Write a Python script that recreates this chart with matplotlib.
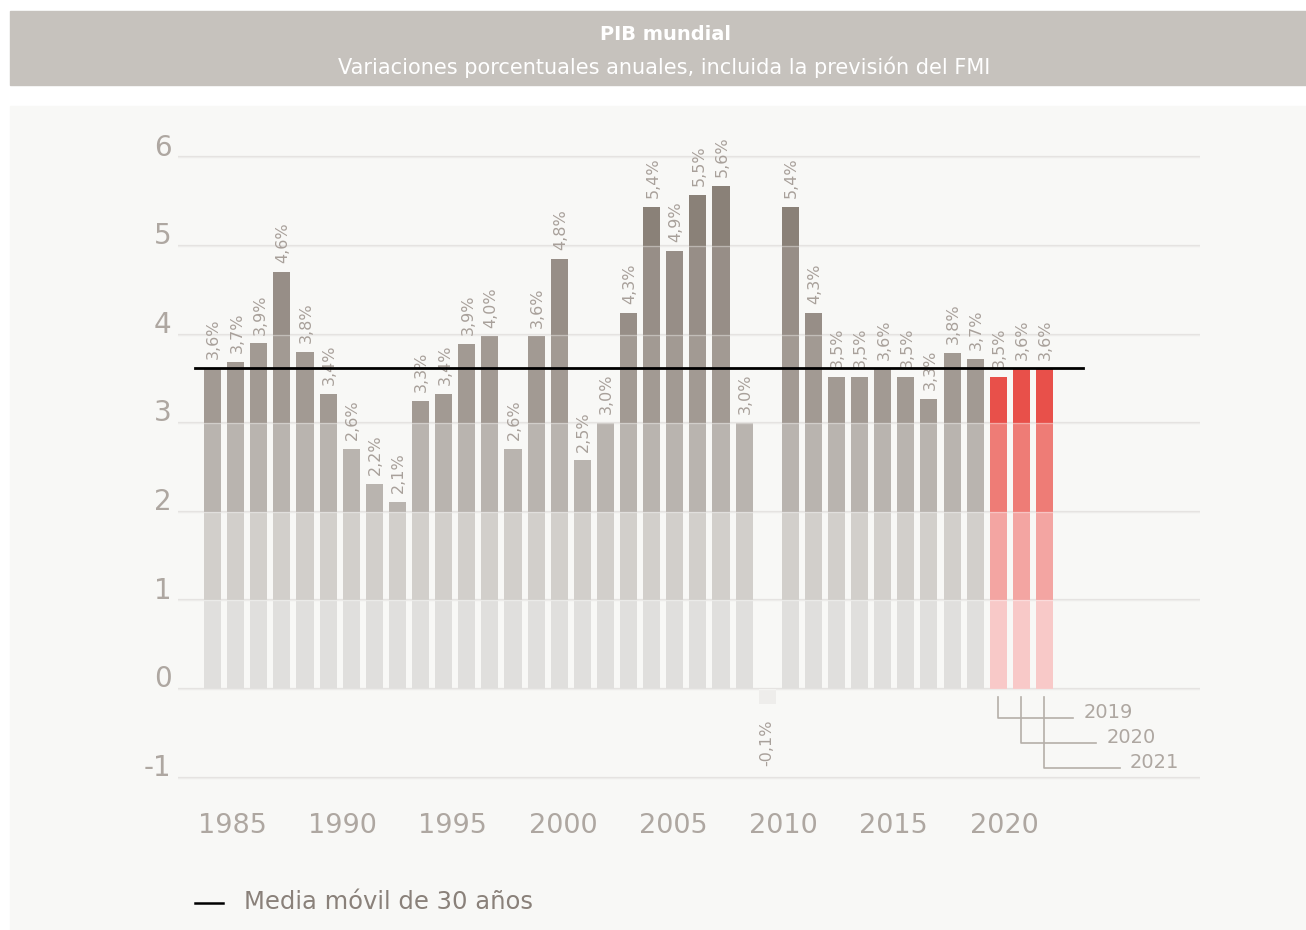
import numpy as np
import matplotlib.pyplot as plt
from matplotlib.patches import Rectangle
from matplotlib.lines import Line2D
import matplotlib.transforms as mtransforms

# data
years = list(range(1985, 2022))
growth = [3.62, 3.69, 3.90, 4.71, 3.80, 3.33, 2.71, 2.31, 2.11, 3.25,
          3.33, 3.89, 3.98, 2.71, 3.98, 4.85, 2.58, 3.00, 4.24, 5.44,
          4.94, 5.58, 5.68, 3.00, -0.17, 5.44, 4.24, 3.52, 3.52, 3.61,
          3.52, 3.27, 3.79, 3.73, 3.52, 3.61, 3.61]
labels = ["3,6%", "3,7%", "3,9%", "4,6%", "3,8%", "3,4%", "2,6%", "2,2%", "2,1%", "3,3%",
          "3,4%", "3,9%", "4,0%", "2,6%", "3,6%", "4,8%", "2,5%", "3,0%", "4,3%", "5,4%",
          "4,9%", "5,5%", "5,6%", "3,0%", "-0,1%", "5,4%", "4,3%", "3,5%", "3,5%", "3,6%",
          "3,5%", "3,3%", "3,8%", "3,7%", "3,5%", "3,6%", "3,6%"]
forecast_years = [2019, 2020, 2021]
moving_avg = 3.62
ma_start, ma_end = 1984.25, 2022.67
yticks = [-1, 0, 1, 2, 3, 4, 5, 6]
xtick_labels = ["1985", "1990", "1995", "2000", "2005", "2010", "2015", "2020"]

# band colours (0-1, 1-2, 2-3, 3-4, 4-5, 5-6)
grey_bands = ["#e0dfdd", "#d2cfcb", "#b9b4af", "#a29a93", "#978e87", "#8a8178"]
red_bands = ["#f8c9c8", "#f3a5a2", "#ee7c76", "#e8504a", "#e8504a", "#e8504a"]
neg_color = "#eeedeb"

W, H = 1306, 930
fig = plt.figure(figsize=(W / 100, H / 100), dpi=100)
fig.patch.set_facecolor("white")

# header band and panel
fig.patches.append(Rectangle((10 / W, 1 - 85 / H), 1 - 10 / W, 74 / H,
                             transform=fig.transFigure, color="#c6c2bd", zorder=-5))
fig.patches.append(Rectangle((10 / W, 0), 1 - 10 / W, 1 - 106 / H,
                             transform=fig.transFigure, color="#f8f8f6", zorder=-5))
fig.text(665 / W, 1 - 34 / H, "PIB mundial", color="white", fontsize=14,
         fontweight="bold", ha="center", va="center")
fig.text(664 / W, 1 - 67 / H, "Variaciones porcentuales anuales, incluida la previsión del FMI",
         color="white", fontsize=15, ha="center", va="center")

unit = 88.6
y_lo, y_hi = -1.1, 6.1
left_px, right_px = 177.7, 1200
bottom_px = 689 + 1.1 * unit
top_px = 689 - 6.1 * unit
ax = fig.add_axes([left_px / W, 1 - bottom_px / H, (right_px - left_px) / W,
                   (bottom_px - top_px) / H])
ax.set_zorder(2)
ax.set_facecolor("none")
ax.set_xlim(1983.49, 2027.73)
ax.set_ylim(y_lo, y_hi)
for s in ax.spines.values():
    s.set_visible(False)
ax.set_xticks([])
ax.set_yticks([])

# gridlines
for t in yticks:
    ax.axhline(t, color="#e4e2df", lw=1.6, zorder=0)
    ax.axhline(t, color="#ffffff", lw=1.0, alpha=0.35, zorder=3)

bw = 0.74
for yr, v, lab in zip(years, growth, labels):
    bands = red_bands if yr in forecast_years else grey_bands
    if v < 0:
        ax.bar(yr, v, width=bw, color=neg_color, zorder=2)
        ax.text(yr, v - 0.17, lab, rotation=90, ha="center", va="top",
                fontsize=11.5, color="#a8a09a")
        continue
    for i in range(6):
        lo, hi = i, min(i + 1, v)
        if hi <= lo:
            break
        ax.bar(yr, hi - lo, bottom=lo, width=bw, color=bands[i], lw=0, zorder=2)
    ax.text(yr + 0.05, v + 0.1, lab, rotation=90, ha="center", va="bottom",
            fontsize=11.5, color="#a8a09a")

# 30-year moving average
ax.plot([ma_start, ma_end], [moving_avg, moving_avg], color="black", lw=2, zorder=4)

# y tick labels
trans = mtransforms.blended_transform_factory(ax.transAxes, ax.transData)
for t in yticks:
    ax.text(-0.006, t + 0.02, str(t), transform=trans, ha="right", va="baseline",
            fontsize=20, color="#aea7a1")

# year labels
tick_pos = np.linspace(1985.85, 2019.25, len(xtick_labels))
for p, lab in zip(tick_pos, xtick_labels):
    ax.text(p, -1.55, lab, ha="center", va="center", fontsize=19.5,
            color="#aea7a1", clip_on=False)

# forecast year markers
drops = [-0.33, -0.61, -0.89]
for yr, d in zip(forecast_years, drops):
    ax.plot([yr, yr, yr + 3.25], [-0.09, d, d], color="#b5afa9", lw=1.2,
            zorder=2, clip_on=False)
    ax.text(yr + 3.7, d + 0.06, str(yr), ha="left", va="center", fontsize=14,
            color="#aea7a1")

# legend
fig.add_artist(Line2D([195 / W, 223 / W], [1 - 903 / H, 1 - 903 / H],
                      transform=fig.transFigure, color="black", lw=1.8))
fig.text(244 / W, 1 - 902 / H, "Media móvil de 30 años", ha="left", va="center",
         fontsize=17.5, color="#8a817a")

fig.savefig("out.png", dpi=100)
